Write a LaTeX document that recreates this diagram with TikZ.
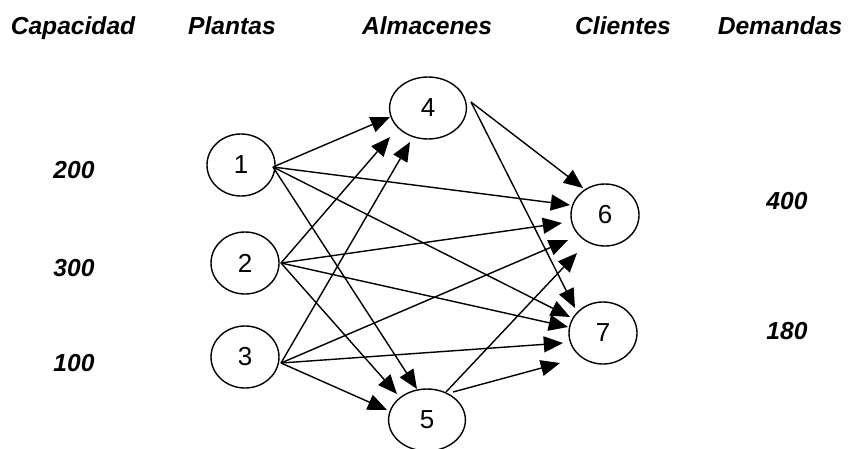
\documentclass[tikz,border=0pt]{standalone}
\usepackage{fontspec}
\setmainfont{Liberation Sans}
\usetikzlibrary{shapes.geometric,arrows.meta}
\tikzset{every picture/.style={line width=1pt}}

\begin{document}
\begin{tikzpicture}[x=0.025cm, y=-0.025cm,
    site/.style={draw, ellipse, inner sep=0pt, minimum width=1.7cm, minimum height=1.55cm, font=\fontsize{18.5}{20}\selectfont},
    wide/.style={site, minimum width=1.92cm},
    hdr/.style={anchor=base, font=\fontsize{17.5}{20}\selectfont\bfseries\itshape},
    arr/.style={-{Triangle[length=0.48cm, width=0.4cm]}}]
    \useasboundingbox (0,0) rectangle (855,448);

    % Column headings
    \node[hdr] (hcap) at (73,34) {Capacidad};
    \node[hdr] (hpla) at (232,34) {Plantas};
    \node[hdr] (halm) at (427,34) {Almacenes};
    \node[hdr] (hcli) at (623,34) {Clientes};
    \node[hdr] (hdem) at (780,34) {Demandas};

    % Capacities and demands
    \node[hdr] (c1) at (74,178) {200};
    \node[hdr] (c2) at (74,276) {300};
    \node[hdr] (c3) at (74,371) {100};
    \node[hdr] (d6) at (787,209) {400};
    \node[hdr] (d7) at (787,339) {180};

    % Plants
    \node[site] (n1) at (241,165) {1};
    \node[site] (n2) at (245,263) {2};
    \node[site] (n3) at (245,357) {3};
    % Warehouses
    \node[wide] (n4) at (428,108) {4};
    \node[wide] (n5) at (427,420) {5};
    % Customers
    \node[site] (n6) at (605,215) {6};
    \node[site] (n7) at (603,333) {7};

    % Plants to warehouses
    \draw[arr] ([shift={(32,2)}]n1.center) -- ([shift={(-38,9)}]n4.center);
    \draw[arr] ([shift={(36,0)}]n2.center) -- ([shift={(-38,29)}]n4.center);
    \draw[arr] ([shift={(36,6)}]n3.center) -- ([shift={(-18,34)}]n4.center);
    \draw[arr] ([shift={(32,2)}]n1.center) -- ([shift={(-10,-31)}]n5.center);
    \draw[arr] ([shift={(36,0)}]n2.center) -- ([shift={(-30,-26)}]n5.center);
    \draw[arr] ([shift={(36,6)}]n3.center) -- ([shift={(-40,-10)}]n5.center);

    % Plants to customers
    \draw[arr] ([shift={(32,2)}]n1.center) -- ([shift={(-35,-10)}]n6.center);
    \draw[arr] ([shift={(36,0)}]n2.center) -- ([shift={(-43,8)}]n6.center);
    \draw[arr] ([shift={(36,6)}]n3.center) -- ([shift={(-37,25)}]n6.center);
    \draw[arr] ([shift={(32,2)}]n1.center) -- ([shift={(-33,-16)}]n7.center);
    \draw[arr] ([shift={(36,0)}]n2.center) -- ([shift={(-35,-6)}]n7.center);
    \draw[arr] ([shift={(36,6)}]n3.center) -- ([shift={(-40,10)}]n7.center);

    % Warehouses to customers
    \draw[arr] ([shift={(43,-6)}]n4.center) -- ([shift={(-22,-27)}]n6.center);
    \draw[arr] ([shift={(43,-6)}]n4.center) -- ([shift={(-28,-25)}]n7.center);
    \draw[arr] ([shift={(19,-28)}]n5.center) -- ([shift={(-28,38)}]n6.center);
    \draw[arr] ([shift={(26,-28)}]n5.center) -- ([shift={(-43,30)}]n7.center);
\end{tikzpicture}
\end{document}
